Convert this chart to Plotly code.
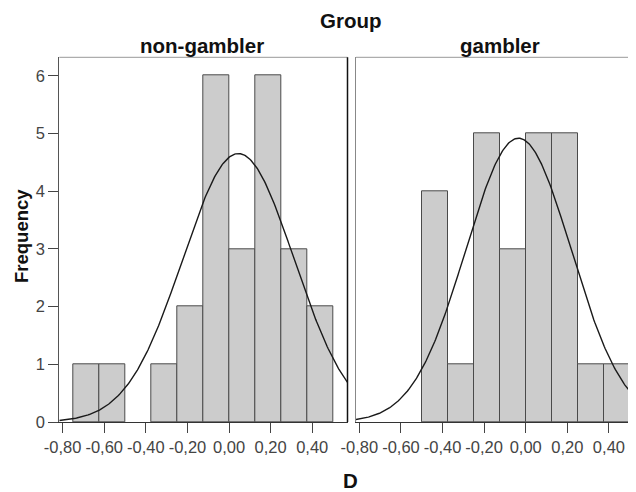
import numpy as np
import plotly.graph_objects as go

# ---- data ----
bin_width = 0.125
ng_bin_start = [-0.75, -0.625, -0.5, -0.375, -0.25, -0.125, 0.0, 0.125, 0.25, 0.375]
ng_counts = [1, 1, 0, 1, 2, 6, 3, 6, 3, 2]
g_bin_start = [-0.5, -0.375, -0.25, -0.125, 0.0, 0.125, 0.25, 0.375]
g_counts = [4, 1, 5, 3, 5, 5, 1, 1]
ng_mean, ng_sd = 0.045, 0.268
g_mean, g_sd = -0.035, 0.2535
x_tickvals = [-0.8, -0.6, -0.4, -0.2, 0.0, 0.2, 0.4]
x_ticktext = ["-0,80", "-0,60", "-0,40", "-0,20", "0,00", "0,20", "0,40"]
y_tickvals = [0, 1, 2, 3, 4, 5, 6]
panel_titles = ["non-gambler", "gambler"]

OFF = 8  # page offset of the figure inside the browser window
W, H = 636 - OFF, 492 - OFF
FONT = "Liberation Sans, Arial, sans-serif"

def px_x(p):
    return (p - OFF) / W

def px_y(p):
    return 1 - (p - OFF) / H

# panel geometry (pixels, window coordinates)
L1, R1 = 59.3, 347.5
L2, R2 = 356.0, W + OFF
TOP, BOT = 57.3, 422.0
scale = 208.0  # px per data unit
x1_range = [-0.816, -0.816 + (R1 - L1) / scale]
x2_range = [-0.816, -0.816 + (R2 - L2) / scale]
y_range = [0, 6.32]

fig = go.Figure()

def add_panel(starts, counts, mean, sd, xr, xa, ya):
    n = sum(counts)
    centers = [s + bin_width / 2 for s in starts]
    xs = [c for c, k in zip(centers, counts) if k > 0]
    ys = [k for k in counts if k > 0]
    fig.add_trace(go.Bar(
        x=xs, y=ys, width=bin_width, xaxis=xa, yaxis=ya,
        marker=dict(color="#cccccc", line=dict(color="#4a4a4a", width=1)),
        showlegend=False, hoverinfo="skip"))
    cx = np.linspace(xr[0], xr[1], 300)
    cy = n * bin_width / (sd * np.sqrt(2 * np.pi)) * np.exp(-0.5 * ((cx - mean) / sd) ** 2)
    fig.add_trace(go.Scatter(
        x=cx, y=cy, mode="lines", xaxis=xa, yaxis=ya,
        line=dict(color="#1a1a1a", width=1.4),
        showlegend=False, hoverinfo="skip"))

add_panel(ng_bin_start, ng_counts, ng_mean, ng_sd, x1_range, "x", "y")
add_panel(g_bin_start, g_counts, g_mean, g_sd, x2_range, "x2", "y2")

tickfont = dict(family=FONT, size=16.5, color="#444444")
xcommon = dict(
    tickmode="array", tickvals=x_tickvals, ticktext=x_ticktext,
    ticks="outside", ticklen=10, tickcolor="#444444", tickwidth=1,
    showline=True, linecolor="#333333", linewidth=1, automargin=False,
    showgrid=False, zeroline=False, tickfont=tickfont, fixedrange=True)

fig.update_layout(
    template="none",
    width=W, height=H,
    margin=dict(l=0, r=0, t=0, b=0, pad=0, autoexpand=False),
    paper_bgcolor="white", plot_bgcolor="white",
    bargap=0,
    xaxis=dict(domain=[px_x(L1), px_x(R1)], range=x1_range, anchor="y", **xcommon),
    xaxis2=dict(domain=[px_x(L2), px_x(R2)], range=x2_range, anchor="y2", **xcommon),
    yaxis=dict(domain=[px_y(BOT), px_y(TOP)], range=y_range, anchor="x",
               tickmode="array", tickvals=y_tickvals, automargin=False,
               ticks="outside", ticklen=10, tickcolor="#444444",
               showline=True, linecolor="#555555", linewidth=1,
               showgrid=False, zeroline=False, tickfont=tickfont),
    yaxis2=dict(domain=[px_y(BOT), px_y(TOP)], range=y_range, anchor="x2",
                showticklabels=False, ticks="", automargin=False,
                showline=True, linecolor="#888888", linewidth=1,
                showgrid=False, zeroline=False),
)

# frame lines (top borders and right border of left panel)
fig.add_shape(type="line", xref="paper", yref="paper",
              x0=px_x(L1), x1=px_x(R1), y0=px_y(TOP), y1=px_y(TOP),
              line=dict(color="#999999", width=1))
fig.add_shape(type="line", xref="paper", yref="paper",
              x0=px_x(L2), x1=px_x(R2), y0=px_y(TOP), y1=px_y(TOP),
              line=dict(color="#999999", width=1))
fig.add_shape(type="line", xref="paper", yref="paper",
              x0=px_x(R1), x1=px_x(R1), y0=px_y(BOT), y1=px_y(TOP),
              line=dict(color="#111111", width=1.5))

bold = dict(family=FONT, size=20.5, color="#111111")
ann = [
    dict(text="<b>Group</b>", x=px_x(351), y=px_y(20)),
    dict(text="<b>%s</b>" % panel_titles[0], x=px_x(202), y=px_y(46)),
    dict(text="<b>%s</b>" % panel_titles[1], x=px_x(500), y=px_y(46)),
    dict(text="<b>D</b>", x=px_x(350), y=px_y(480)),
]
for a in ann:
    fig.add_annotation(xref="paper", yref="paper", showarrow=False,
                       xanchor="center", yanchor="middle", font=bold, **a)
fig.add_annotation(text="<b>Frequency</b>", xref="paper", yref="paper",
                   x=px_x(21), y=px_y(236), showarrow=False, textangle=-90,
                   xanchor="center", yanchor="middle",
                   font=dict(family=FONT, size=18.5, color="#111111"))

fig.write_html("out.html")
